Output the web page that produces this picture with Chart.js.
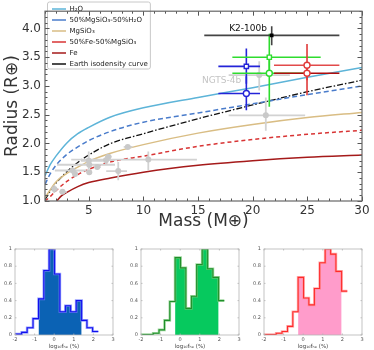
<!DOCTYPE html>
<html><head><meta charset="utf-8">
<script src="https://cdn.jsdelivr.net/npm/chart.js@4.4.1/dist/chart.umd.min.js"></script>
<style>
html,body{margin:0;padding:0;background:#fff;width:374px;height:350px;overflow:hidden;}
canvas{position:absolute;display:block;}
#main{left:0;top:0;}
#h1{left:0;top:240px;}
#h2{left:126px;top:240px;}
#h3{left:249px;top:240px;}
</style></head><body>
<canvas id="main" width="374" height="240"></canvas>
<canvas id="h1" width="124" height="110"></canvas>
<canvas id="h2" width="124" height="110"></canvas>
<canvas id="h3" width="124" height="110"></canvas>
<script>
// ---------- composition curves (mass in Earth masses, radius in Earth radii) ----------
const curveMass  = [1, 1.5, 2, 3, 4, 5, 7, 10, 15, 20, 25, 30];
const rH2O       = [1.44, 1.64, 1.78, 2.01, 2.17, 2.28, 2.46, 2.62, 2.80, 2.97, 3.15, 3.32];
const rHalfWater = [1.29, 1.48, 1.62, 1.81, 1.94, 2.05, 2.21, 2.37, 2.53, 2.69, 2.85, 3.00];
const rMgSiO3    = [1.06, 1.20, 1.33, 1.48, 1.59, 1.69, 1.83, 1.98, 2.18, 2.33, 2.45, 2.54];
const rHalfFe    = [1.00, 1.08, 1.18, 1.34, 1.46, 1.55, 1.68, 1.78, 1.95, 2.07, 2.16, 2.23];
const rEarth     = [1.02, 1.18, 1.31, 1.51, 1.67, 1.80, 2.00, 2.17, 2.43, 2.67, 2.90, 3.10];
const feMass     = [2.07, 2.5, 3, 4, 5, 7, 10, 15, 20, 25, 30];
const rFe        = [1.00, 1.09, 1.15, 1.25, 1.32, 1.40, 1.50, 1.62, 1.70, 1.76, 1.80];

// ---------- known planets (grey) ----------
const knownMass   = [1.85, 2.6, 3.53, 3.75, 5.0, 5.05, 5.05, 5.78, 6.58, 6.8, 7.7, 8.57, 10.45, 20.6, 21.2];
const knownRad    = [1.21, 1.16, 1.53, 1.47, 1.70, 1.63, 1.50, 1.59, 1.71, 1.77, 1.52, 1.94, 1.72, 3.19, 2.49];
const knownMassLo = [1.6, 2.3, 1.9, 3.5, 4.3, 2.1, 4.8, 5.5, 6.0, 6.5, 6.6, 8.2, 3.4, 17.8, 17.8];
const knownMassHi = [2.2, 3.0, 4.8, 4.0, 6.3, 7.4, 5.3, 6.1, 7.4, 7.1, 8.5, 9.0, 14.9, 23.4, 24.8];
const knownRadLo  = [1.14, 1.12, 1.48, 1.43, 1.55, 1.57, 1.46, 1.55, 1.64, 1.73, 1.36, 1.91, 1.54, 2.92, 2.22];
const knownRadHi  = [1.28, 1.20, 1.58, 1.51, 1.86, 1.69, 1.54, 1.63, 1.78, 1.81, 1.68, 1.97, 1.86, 3.43, 2.80];

// ---------- K2-100b ----------
const k2Mass = [21.74], k2Rad = [3.88], k2MassLo = [15.57], k2MassHi = [27.93], k2RadLo = [3.71], k2RadHi = [4.04];

// ---------- model solutions ----------
const blueMass  = [19.42, 19.42], blueRad  = [3.34, 2.87];
const blueMassLo = [16.86, 16.86], blueMassHi = [20.67, 20.67], blueRadLo = [3.04, 2.58], blueRadHi = [3.65, 3.17];
const greenMass = [21.52, 21.52], greenRad = [3.50, 3.22];
const greenMassLo = [18.14, 18.14], greenMassHi = [26.22, 24.9], greenRadLo = [3.20, 2.64], greenRadHi = [3.91, 3.50];
const redMass   = [24.97, 24.97], redRad   = [3.36, 3.22];
const redMassLo = [21.95, 21.95], redMassHi = [27.93, 27.93], redRadLo = [3.10, 2.84], redRadHi = [3.73, 3.36];

// ---------- axes ----------
const massTicks   = [5, 10, 15, 20, 25, 30];
const radiusTicks = [1.0, 1.5, 2.0, 2.5, 3.0, 3.5, 4.0];

// ---------- histograms ----------
const binEdges  = [-2.0, -1.66, -1.38, -1.08, -0.80, -0.53, -0.26, 0.02, 0.29, 0.57, 0.84, 1.12, 1.40, 1.67, 1.96, 2.25];
const histBlue  = [0.01, 0.03, 0.085, 0.19, 0.42, 0.75, 1.0, 0.71, 0.27, 0.34, 0.27, 0.40, 0.17, 0.085, 0.04];
const histGreen = [0.005, 0.005, 0.02, 0.06, 0.17, 0.39, 0.90, 0.78, 0.31, 0.45, 0.82, 1.0, 0.77, 0.67, 0.40];
const histPink  = [0.005, 0.005, 0.02, 0.04, 0.10, 0.27, 0.67, 0.43, 0.35, 0.54, 0.84, 1.0, 0.94, 0.74, 0.51];
const histTicksX = [-2, -1, 0, 1, 2, 3];
const histTicksY = [0, 0.2, 0.4, 0.6, 0.8, 1];

Chart.defaults.font.family = '"DejaVu Sans", sans-serif';
Chart.defaults.animation = false;

const pts = (xs, ys) => xs.map((x, i) => ({x: x, y: ys[i]}));

const errBarPlugin = {
  id: 'errBars',
  beforeDatasetDraw(chart, args) {
    const ds = chart.data.datasets[args.index];
    if (!ds.err) return;
    const {ctx, chartArea: a, scales: {x, y}} = chart;
    const e = ds.err;
    ctx.save();
    ctx.beginPath(); ctx.rect(a.left, a.top, a.width, a.height); ctx.clip();
    ctx.lineWidth = e.width; ctx.lineCap = 'butt';
    ds.data.forEach((p, i) => {
      const px = x.getPixelForValue(p.x), py = y.getPixelForValue(p.y);
      ctx.strokeStyle = e.hColors ? e.hColors[i] : e.color;
      ctx.beginPath(); ctx.moveTo(x.getPixelForValue(e.xlo[i]), py); ctx.lineTo(x.getPixelForValue(e.xhi[i]), py); ctx.stroke();
      ctx.strokeStyle = e.color;
      ctx.beginPath(); ctx.moveTo(px, y.getPixelForValue(e.ylo[i])); ctx.lineTo(px, y.getPixelForValue(e.yhi[i])); ctx.stroke();
    });
    ctx.restore();
  }
};

const mainDecor = {
  id: 'mainDecor',
  afterLayout(chart) {
    if (chart.legend) { chart.legend.left += 3; chart.legend.top += 1.5; }
  },
  beforeDraw(chart) {
    const lg = chart.legend; const ctx = chart.ctx;
    if (lg && lg.columnSizes && lg.columnSizes.length) {
      const c = lg.columnSizes[0];
      const x0 = lg.left - 0.5, y0 = lg.top + 0.5, w = c.width + 7, h = c.height + 1;
      ctx.save();
      ctx.fillStyle = 'rgba(255,255,255,0.85)';
      ctx.strokeStyle = '#c8c8c8'; ctx.lineWidth = 1;
      ctx.beginPath();
      if (ctx.roundRect) ctx.roundRect(x0, y0, w, h, 2); else ctx.rect(x0, y0, w, h);
      ctx.fill(); ctx.stroke();
      ctx.restore();
    }
  },
  afterDatasetsDraw(chart) {
    const {ctx, scales: {x, y}} = chart;
    ctx.save();
    ctx.font = '9px "DejaVu Sans"';
    ctx.textAlign = 'right'; ctx.textBaseline = 'middle';
    ctx.fillStyle = '#111';
    ctx.fillText('K2-100b', x.getPixelForValue(21.3), y.getPixelForValue(3.99));
    ctx.fillStyle = '#c4c4c4';
    ctx.fillText('NGTS-4b', x.getPixelForValue(18.95), y.getPixelForValue(3.10));
    ctx.restore();
  },
  afterDraw(chart) {
    const {ctx, chartArea: a, scales: {x, y}} = chart;
    ctx.save();
    ctx.strokeStyle = '#555'; ctx.lineWidth = 1;
    const tick = (px, len, vertical) => {
      ctx.beginPath();
      if (vertical) {
        ctx.moveTo(Math.round(px) + 0.5, a.bottom); ctx.lineTo(Math.round(px) + 0.5, a.bottom - len);
        ctx.moveTo(Math.round(px) + 0.5, a.top); ctx.lineTo(Math.round(px) + 0.5, a.top + len);
      } else {
        ctx.moveTo(a.left, Math.round(px) + 0.5); ctx.lineTo(a.left + len, Math.round(px) + 0.5);
        ctx.moveTo(a.right, Math.round(px) + 0.5); ctx.lineTo(a.right - len, Math.round(px) + 0.5);
      }
      ctx.stroke();
    };
    for (let m = 1; m <= 30; m++) tick(x.getPixelForValue(m), massTicks.includes(m) ? 4.5 : 2.5, true);
    for (let k = 10; k <= 43; k++) tick(y.getPixelForValue(k / 10), (k % 5 === 0) ? 4.5 : 2.5, false);
    ctx.strokeStyle = '#666'; ctx.lineWidth = 1.2;
    ctx.strokeRect(a.left, a.top, a.width, a.height);
    ctx.restore();
  }
};

const curve = (label, xs, ys, color, dash, width) => ({
  label: label, data: pts(xs, ys), showLine: true, pointRadius: 0, pointHoverRadius: 0,
  borderColor: color, backgroundColor: color, borderWidth: width || 1.5, borderDash: dash || [],
  cubicInterpolationMode: 'monotone', fill: false
});

new Chart(document.getElementById('main'), {
  type: 'scatter',
  data: {
    datasets: [
      {label: 'K2-100b', data: pts(k2Mass, k2Rad), pointStyle: 'rect', pointRadius: 2.6,
       backgroundColor: '#000', borderColor: '#000', borderWidth: 0,
       err: {xlo: k2MassLo, xhi: k2MassHi, ylo: k2RadLo, yhi: k2RadHi, color: '#444', width: 1.6}},
      {label: 'red', data: pts(redMass, redRad), pointStyle: ['circle', 'circle'], pointRadius: 3,
       backgroundColor: '#fff', borderColor: '#e03a3a', borderWidth: 1.4,
       err: {xlo: redMassLo, xhi: redMassHi, ylo: redRadLo, yhi: redRadHi, color: '#e03a3a', hColors: ['#e24a4a', '#b00d0d'], width: 1.6}},
      {label: 'green', data: pts(greenMass, greenRad), pointStyle: ['rect', 'circle'], pointRadius: 3,
       backgroundColor: '#fff', borderColor: '#2edc2e', borderWidth: 1.4,
       err: {xlo: greenMassLo, xhi: greenMassHi, ylo: greenRadLo, yhi: greenRadHi, color: '#2edc2e', width: 1.6}},
      {label: 'blue', data: pts(blueMass, blueRad), pointStyle: ['rect', 'circle'], pointRadius: 3,
       backgroundColor: '#fff', borderColor: '#2424d8', borderWidth: 1.4,
       err: {xlo: blueMassLo, xhi: blueMassHi, ylo: blueRadLo, yhi: blueRadHi, color: '#2424d8', width: 1.6}},
      {label: 'known', data: pts(knownMass, knownRad), pointStyle: 'circle', pointRadius: 3,
       backgroundColor: '#c9c9c9', borderColor: '#c9c9c9', borderWidth: 0,
       err: {xlo: knownMassLo, xhi: knownMassHi, ylo: knownRadLo, yhi: knownRadHi, color: '#d2d2d2', width: 1.8}},
      curve('H\u2082O', curveMass, rH2O, '#5db4d8'),
      curve('50%MgSiO\u2083-50%H\u2082O', curveMass, rHalfWater, '#4a7ccb', [5, 3]),
      curve('MgSiO\u2083', curveMass, rMgSiO3, '#d9bd84'),
      curve('50%Fe-50%MgSiO\u2083', curveMass, rHalfFe, '#d83434', [4, 3]),
      curve('Fe', feMass, rFe, '#a51a1a'),
      curve('Earth isodensity curve', curveMass, rEarth, '#111', [6, 2, 1.5, 2], 1.3)
    ]
  },
  options: {
    responsive: false, devicePixelRatio: 1,
    layout: {padding: {top: 5, right: 12, left: 0, bottom: 0}},
    plugins: {
      legend: {
        position: 'chartArea', align: 'start',
        labels: {
          filter: item => item.datasetIndex >= 5,
          usePointStyle: true, pointStyle: 'line', pointStyleWidth: 14,
          boxHeight: 7, padding: 4, color: '#222', font: {size: 7}
        }
      },
      tooltip: {enabled: false}
    },
    scales: {
      x: {
        type: 'linear', min: 1, max: 30,
        afterBuildTicks: s => { s.ticks = massTicks.map(v => ({value: v})); },
        afterFit: s => { s.height = 39; },
        grid: {display: false, drawTicks: false}, border: {display: false},
        ticks: {font: {size: 12}, color: '#333', padding: 3, callback: v => String(v), maxRotation: 0},
        title: {display: true, text: 'Mass (M\u2295)', font: {size: 17}, color: '#333', padding: {top: 0, bottom: 8}}
      },
      y: {
        type: 'linear', min: 1, max: 4.3,
        afterBuildTicks: s => { s.ticks = radiusTicks.map(v => ({value: v})); },
        afterFit: s => { s.width = 45; },
        grid: {display: false, drawTicks: false}, border: {display: false},
        ticks: {font: {size: 12}, color: '#333', padding: 4, callback: v => Number(v).toFixed(1)},
        title: {display: true, text: 'Radius (R\u2295)', font: {size: 17}, color: '#333', padding: {top: 2, bottom: 0}}
      }
    }
  },
  plugins: [errBarPlugin, mainDecor]
});

// ---------- histograms ----------
const histFrame = {
  id: 'histFrame',
  afterDraw(chart) {
    const {ctx, chartArea: a, scales: {x, y}} = chart;
    ctx.save();
    ctx.strokeStyle = '#b4b4b4'; ctx.lineWidth = 0.8;
    ctx.strokeRect(a.left, a.top, a.width, a.height);
    ctx.beginPath();
    histTicksX.forEach(v => { const p = x.getPixelForValue(v); ctx.moveTo(p, a.bottom); ctx.lineTo(p, a.bottom - 1.5); ctx.moveTo(p, a.top); ctx.lineTo(p, a.top + 1.5); });
    histTicksY.forEach(v => { const p = y.getPixelForValue(v); ctx.moveTo(a.left, p); ctx.lineTo(a.left + 1.5, p); ctx.moveTo(a.right, p); ctx.lineTo(a.right - 1.5, p); });
    ctx.stroke();
    ctx.restore();
  }
};

function stepPoints(vals, from, to) {
  const out = [];
  for (let i = from; i <= to; i++) out.push({x: binEdges[i], y: vals[i]});
  out.push({x: binEdges[to + 1], y: vals[to]});
  return out;
}

function makeHist(id, vals, fFrom, fTo, lineColor, haloColor, fillColor) {
  new Chart(document.getElementById(id), {
    type: 'line',
    data: {
      datasets: [
        {data: stepPoints(vals, 0, vals.length - 1), stepped: true, borderColor: lineColor, borderWidth: 1.1, pointRadius: 0, fill: false},
        {data: stepPoints(vals, 0, vals.length - 1), stepped: true, borderColor: haloColor, borderWidth: 2.6, pointRadius: 0, fill: false},
        {data: stepPoints(vals, fFrom, fTo), stepped: true, borderWidth: 0, borderColor: fillColor, backgroundColor: fillColor, pointRadius: 0, fill: 'origin'}
      ]
    },
    options: {
      responsive: false, devicePixelRatio: 1,
      layout: {padding: {top: 9, right: 11, left: 0, bottom: 0}},
      plugins: {legend: {display: false}, tooltip: {enabled: false}},
      scales: {
        x: {
          type: 'linear', min: -2, max: 3,
          afterBuildTicks: s => { s.ticks = histTicksX.map(v => ({value: v})); },
          afterFit: s => { s.height = 15; },
          grid: {display: false, drawTicks: false}, border: {display: false},
          ticks: {font: {size: 5}, color: '#555', padding: 2, maxRotation: 0, callback: v => String(v)},
          title: {display: true, text: 'log\u2081\u2080f\u2095\u2091 (%)', font: {size: 5.5}, color: '#444', padding: {top: 0, bottom: 0}}
        },
        y: {
          type: 'linear', min: 0, max: 1,
          afterBuildTicks: s => { s.ticks = histTicksY.map(v => ({value: v})); },
          afterFit: s => { s.width = 15; },
          grid: {display: false, drawTicks: false}, border: {display: false},
          ticks: {font: {size: 5}, color: '#555', padding: 3, callback: v => (v === 0 || v === 1) ? String(v) : Number(v).toFixed(1)}
        }
      }
    },
    plugins: [histFrame]
  });
}

makeHist('h1', histBlue, 4, 11, '#1010ee', 'rgba(120,130,255,0.75)', '#0b62b4');
makeHist('h2', histGreen, 6, 13, '#1f8f2a', 'rgba(120,200,120,0.7)', '#06c95e');
makeHist('h3', histPink, 6, 13, '#ff2a2a', 'rgba(255,140,140,0.7)', '#ff9ccb');
</script>
</body></html>
